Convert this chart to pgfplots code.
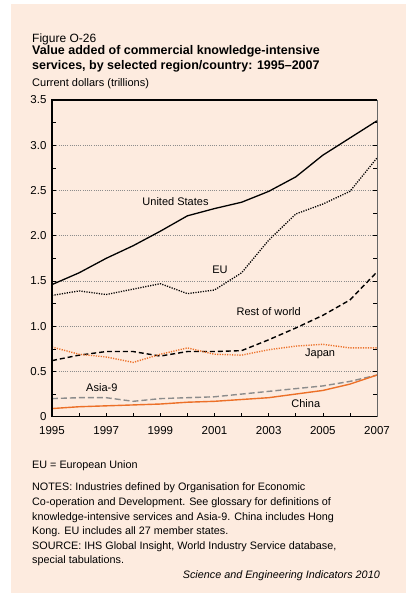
\documentclass[border=0pt]{standalone}
\usepackage{pgfplots}
\pgfplotsset{compat=1.18}
\usepackage{fontspec}
\setmainfont{Liberation Sans}
\definecolor{peach}{RGB}{253,235,223}
\definecolor{sieorange}{RGB}{236,112,40}
\definecolor{siegray}{RGB}{140,140,140}
\begin{document}
\begin{tikzpicture}[x=1bp,y=1bp]
\fill[white] (0,0) rectangle (406,602);
\fill[peach] (11,9) rectangle (406,598);
\node[anchor=base west, inner sep=0, font=\fontsize{12bp}{14bp}\selectfont] at (32,602-43) {Figure O-26};
\node[anchor=base west, inner sep=0, font=\fontsize{12.5bp}{15bp}\selectfont\bfseries] at (32,602-55) {Value added of commercial knowledge-intensive};
\node[anchor=base west, inner sep=0, font=\fontsize{12.5bp}{15bp}\selectfont\bfseries] at (32,602-70) {services, by selected region/country: 1995--2007};
\node[anchor=base west, inner sep=0, font=\fontsize{11bp}{13bp}\selectfont] at (32,602-87) {Current dollars (trillions)};
\begin{axis}[
  at={(52bp,185.3bp)}, anchor=south west, scale only axis,
  width=325bp, height=316.7bp,
  xmin=1995, xmax=2007, ymin=0, ymax=3.5,
  axis line style={draw=none},
  xtick={1995,1997,1999,2001,2003,2005,2007},
  xticklabels={1995,1997,1999,2001,2003,2005,2007},
  minor xtick={1996,1998,2000,2002,2004,2006},
  ytick={0,0.5,1,1.5,2,2.5,3,3.5},
  yticklabels={0,0.5,1.0,1.5,2.0,2.5,3.0,3.5},
  minor ytick={0.25,0.75,1.25,1.75,2.25,2.75,3.25},
  tick align=inside, xtick pos=lower, ytick pos=both,
  major tick length=4bp, minor tick length=4bp,
  tick style={black, line width=0.6pt},
  ymajorgrids,
  major grid style={siegray, line width=0.5pt, dash pattern=on 1pt off 1.2pt},
  ticklabel style={font=\fontsize{11.5bp}{13bp}\selectfont},
  xticklabel style={yshift=-6bp},
  yticklabel style={xshift=-2bp},
  clip=false,
]
% United States
\addplot[black, line width=1.3pt] coordinates {(1995,1.46)(1996,1.59)(1997,1.75)(1998,1.89)(1999,2.05)(2000,2.22)(2001,2.30)(2002,2.37)(2003,2.49)(2004,2.65)(2005,2.89)(2006,3.08)(2007,3.27)};
% EU
\addplot[black, line width=1.3pt, dash pattern=on 1.2pt off 1.3pt] coordinates {(1995,1.34)(1996,1.39)(1997,1.35)(1998,1.41)(1999,1.47)(2000,1.36)(2001,1.40)(2002,1.59)(2003,1.95)(2004,2.24)(2005,2.35)(2006,2.49)(2007,2.86)};
% Rest of world
\addplot[black, line width=1.4pt, dash pattern=on 5pt off 3pt] coordinates {(1995,0.62)(1996,0.68)(1997,0.72)(1998,0.72)(1999,0.67)(2000,0.72)(2001,0.72)(2002,0.73)(2003,0.85)(2004,0.98)(2005,1.12)(2006,1.29)(2007,1.60)};
% Japan
\addplot[sieorange, line width=1.4pt, dash pattern=on 1.2pt off 1.3pt] coordinates {(1995,0.77)(1996,0.69)(1997,0.66)(1998,0.60)(1999,0.69)(2000,0.76)(2001,0.69)(2002,0.68)(2003,0.74)(2004,0.78)(2005,0.80)(2006,0.76)(2007,0.76)};
% Asia-9
\addplot[siegray, line width=1.4pt, dash pattern=on 6pt off 3pt] coordinates {(1995,0.20)(1996,0.21)(1997,0.21)(1998,0.17)(1999,0.20)(2000,0.21)(2001,0.22)(2002,0.25)(2003,0.28)(2004,0.31)(2005,0.34)(2006,0.39)(2007,0.46)};
% China
\addplot[sieorange, line width=1.4pt] coordinates {(1995,0.09)(1996,0.11)(1997,0.12)(1998,0.13)(1999,0.14)(2000,0.16)(2001,0.17)(2002,0.19)(2003,0.21)(2004,0.25)(2005,0.29)(2006,0.36)(2007,0.46)};
% labels
\node[font=\fontsize{11bp}{13bp}\selectfont, inner sep=0] at (axis cs:1999.56,2.38) {United States};
\node[font=\fontsize{11bp}{13bp}\selectfont, inner sep=0] at (axis cs:2001.2,1.62) {EU};
\node[font=\fontsize{11bp}{13bp}\selectfont, inner sep=0] at (axis cs:2003.0,1.16) {Rest of world};
\node[font=\fontsize{11bp}{13bp}\selectfont, inner sep=0] at (axis cs:2004.9,0.69) {Japan};
\node[font=\fontsize{11bp}{13bp}\selectfont, inner sep=0] at (axis cs:1996.84,0.32) {Asia-9};
\node[font=\fontsize{11bp}{13bp}\selectfont, inner sep=0] at (axis cs:2004.37,0.15) {China};
% frame
\draw[black!60, line width=0.7pt] (rel axis cs:1,0) -- (rel axis cs:1,1);
\draw[black, line width=1.3pt] (rel axis cs:1,1) -- (rel axis cs:0,1) -- (rel axis cs:0,0) -- (rel axis cs:1,0);
\end{axis}
\begin{scope}[every node/.style={anchor=base west, inner sep=0, font=\fontsize{10.8bp}{13bp}\selectfont}]
\node at (32,602-469) {EU = European Union};
\node at (32,602-491) {NOTES: Industries defined by Organisation for Economic};
\node at (32,602-506) {Co-operation and Development. See glossary for definitions of};
\node at (32,602-520.5) {knowledge-intensive services and Asia-9. China includes Hong};
\node at (32,602-535) {Kong. EU includes all 27 member states.};
\node at (32,602-549.5) {SOURCE: IHS Global Insight, World Industry Service database,};
\node at (32,602-564) {special tabulations.};
\node[anchor=base east, font=\fontsize{10.8bp}{13bp}\selectfont\itshape] at (380,602-579) {Science and Engineering Indicators 2010};
\end{scope}
\end{tikzpicture}
\end{document}
